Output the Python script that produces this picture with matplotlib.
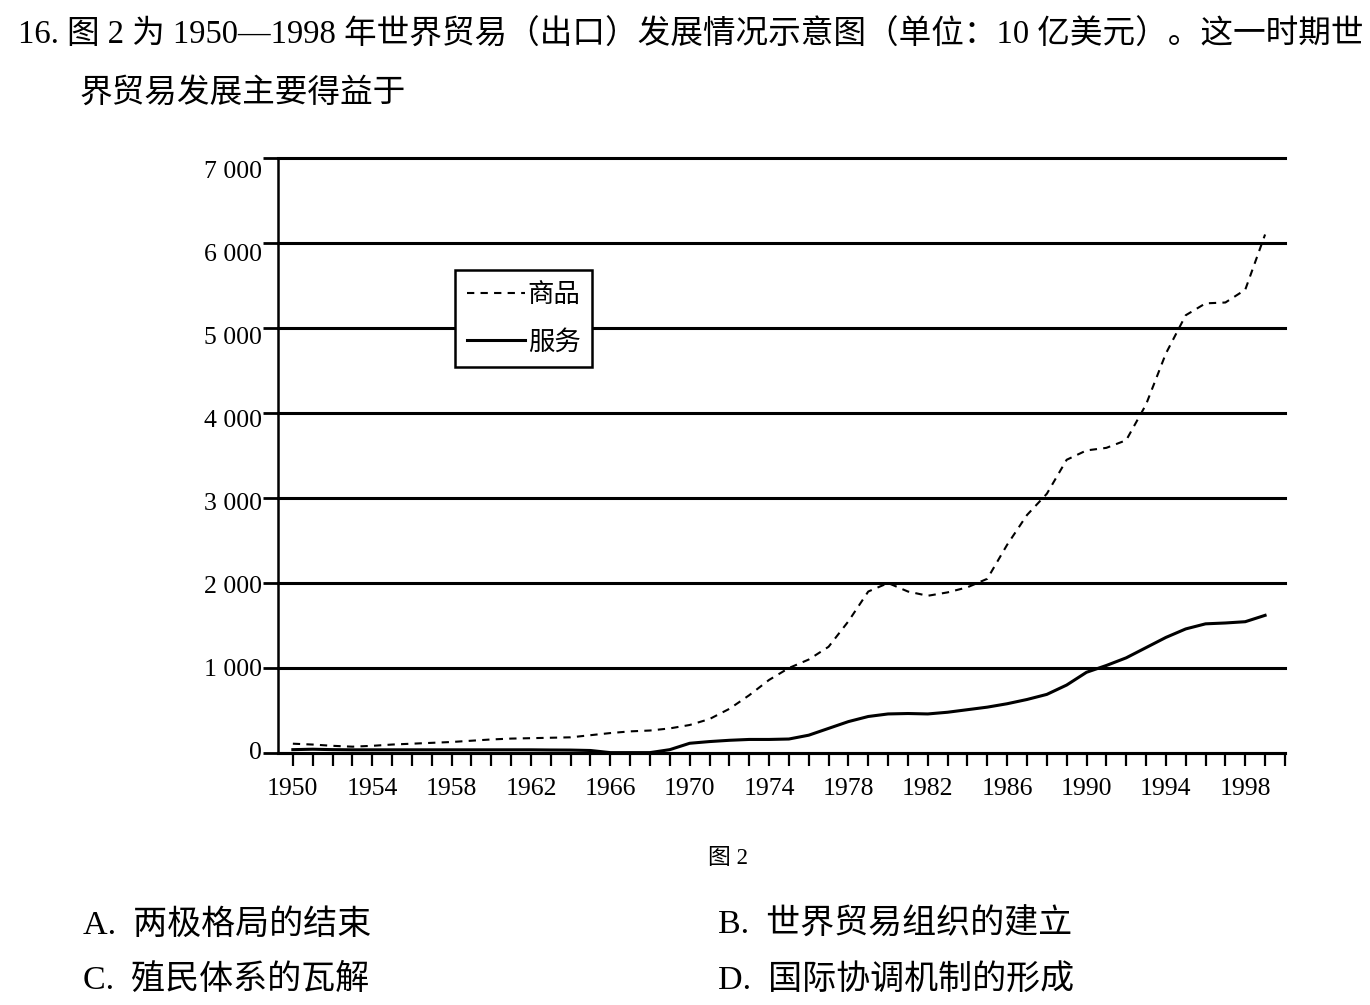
import matplotlib
matplotlib.use("Agg")
import matplotlib.pyplot as plt
import matplotlib.transforms as mtransforms
from matplotlib.ticker import MultipleLocator, FixedLocator

plt.rcParams['font.family'] = ['Liberation Serif', 'Noto Sans CJK SC']

# world exports, 10 亿美元
years = list(range(1950, 2000))
goods = [110, 100, 85, 75, 85, 100, 110, 120, 130, 145,
         160, 170, 175, 180, 185, 210, 235, 255, 265, 290,
         330, 400, 520, 680, 860, 1000, 1100, 1250, 1550, 1900,
         2000, 1900, 1850, 1890, 1950, 2050, 2450, 2800, 3050, 3450,
         3560, 3590, 3680, 4100, 4700, 5150, 5290, 5300, 5450, 6100]
services = [40, 45, 40, 38, 38, 38, 38, 38, 38, 38,
            38, 38, 38, 36, 35, 30, 5, 5, 5, 40,
            115, 135, 150, 160, 160, 165, 210, 290, 370, 430,
            460, 465, 460, 480, 510, 540, 580, 630, 690, 800,
            950, 1030, 1120, 1240, 1360, 1460, 1520, 1530, 1545, 1620]
label_years = list(range(1950, 2000, 4))
y_ticks = [0, 1000, 2000, 3000, 4000, 5000, 6000, 7000]

title_1 = "16. 图 2 为 1950—1998 年世界贸易（出口）发展情况示意图（单位：10 亿美元）。这一时期世"
title_2 = "界贸易发展主要得益于"
caption = "图 2"
options = ["A.  两极格局的结束", "B.  世界贸易组织的建立",
           "C.  殖民体系的瓦解", "D.  国际协调机制的形成"]

fig = plt.figure(figsize=(13.7, 10.05), dpi=100)
ax = fig.add_axes([0.2029, 0.2507, 0.735, 0.5921])

# horizontal rules
for v in y_ticks:
    ax.axhline(v, color='black', linewidth=2.2, clip_on=False, zorder=1)

ax.plot(years, goods, color='black', linestyle=(0, (3.5, 3)), linewidth=1.5, label='商品', zorder=3)
ax.plot(years, services, color='black', linestyle='-', linewidth=2.2, label='服务', zorder=3)

ax.set_xlim(1949.25, 2000)
ax.set_ylim(0, 7000)

for s in ['top', 'right']:
    ax.spines[s].set_visible(False)
ax.spines['left'].set_linewidth(1.8)
ax.spines['bottom'].set_linewidth(2.2)

ax.xaxis.set_major_locator(FixedLocator(label_years))
ax.xaxis.set_minor_locator(MultipleLocator(1))
ax.tick_params(axis='x', which='both', direction='out', length=9, width=1.6, pad=9, labelsize=18.5)

# y labels: the printed scale sits a little low towards the top
ax.set_yticks(y_ticks)
ax.tick_params(axis='y', direction='out', length=11, width=2, labelleft=False)
ylab_trans = mtransforms.blended_transform_factory(ax.transAxes, ax.transData)
for v in y_ticks:
    shift = -14 * v / 7000 / 100
    t = ylab_trans + mtransforms.ScaledTranslation(-16 / 100, shift, fig.dpi_scale_trans)
    ax.text(0, v, f"{v:,}".replace(",", " "), transform=t, ha='right', va='center', fontsize=18.5)

leg = ax.legend(loc='upper left', bbox_to_anchor=(0.176, 0.812),
                handlelength=2.2, handletextpad=0.1, borderpad=0.45, labelspacing=0.75,
                frameon=True, fancybox=False, edgecolor='black', borderaxespad=0,
                prop={'family': ['Noto Sans CJK SC'], 'size': 19})
leg.get_frame().set_linewidth(1.8)
leg.get_frame().set_alpha(1)

fig.text(18 / 1370, 1 - 35 / 1005, title_1, fontsize=23.5, va='center', ha='left')
fig.text(80 / 1370, 1 - 93 / 1005, title_2, fontsize=23.5, va='center', ha='left')
fig.text(728 / 1370, 1 - 858 / 1005, caption, fontsize=16.5, va='center', ha='center')

fig.text(83 / 1370, 1 - 925 / 1005, options[0], fontsize=24.5, va='center', ha='left')
fig.text(718 / 1370, 1 - 925 / 1005, options[1], fontsize=24.5, va='center', ha='left')
fig.text(83 / 1370, 1 - 980 / 1005, options[2], fontsize=24.5, va='center', ha='left')
fig.text(718 / 1370, 1 - 980 / 1005, options[3], fontsize=24.5, va='center', ha='left')

fig.savefig("out.png", dpi=100, facecolor='white')
